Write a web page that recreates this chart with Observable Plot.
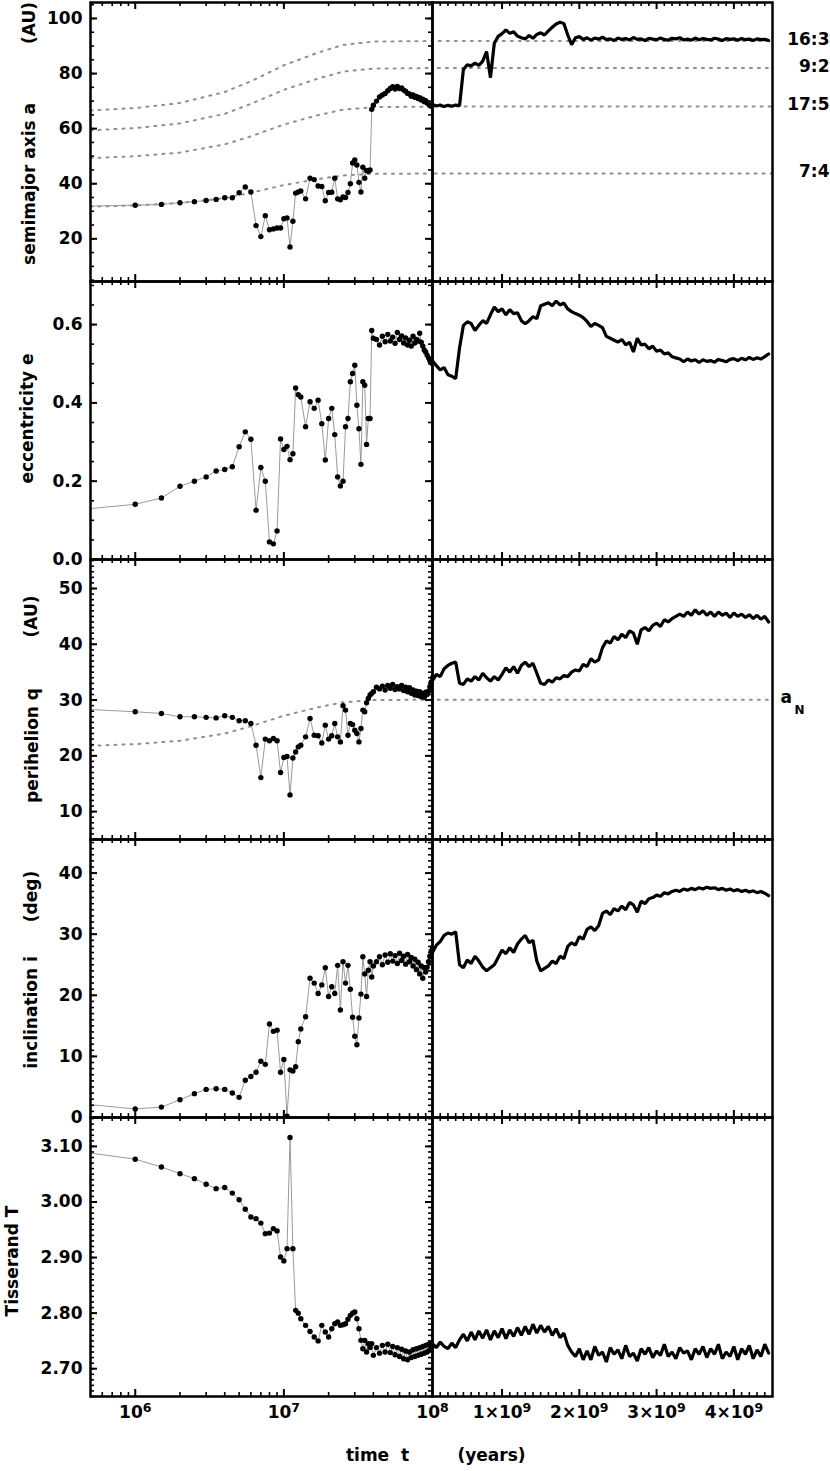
<!DOCTYPE html>
<html><head><meta charset="utf-8">
<script src="https://cdn.jsdelivr.net/npm/d3@7"></script>
<script src="https://cdn.jsdelivr.net/npm/@observablehq/plot@0.6"></script>
<style>
body{margin:0;background:#fff;}
#chart{position:relative;width:830px;height:1471px;overflow:hidden;background:#fff;}
#chart svg{position:absolute;}
</style></head><body><div id="chart"></div>
<script>
// ---------- time grids ----------
const tLeftMyr = [0.5,1,1.5,2,2.5,3,3.5,4,4.5,5,5.5,6,6.5,7,7.5,8,8.5,9,9.5,10,10.5,11,11.5,12,12.5,13,
14,15,16,17,18,19,20,21,22,23,24,25,26,27,28,29,30,31,32,33,34,35,36,37,38,39,40,
42,44,46,48,50,52,54,56,58,60,62,64,66,68,70,72,74,76,78,80,82,84,86,88,90,92,94,96,98,100];
const tRightGyr = [0.10,0.15,0.20,0.25,0.30,0.35,0.40,0.45,0.50,0.55,
0.60,0.65,0.70,0.75,0.80,0.85,0.90,0.95,1.00,1.05,
1.10,1.15,1.20,1.25,1.30,1.35,1.40,1.45,1.50,1.55,
1.60,1.65,1.70,1.75,1.80,1.85,1.90,1.95,2.00,2.05,
2.10,2.15,2.20,2.25,2.30,2.35,2.40,2.45,2.50,2.55,
2.60,2.65,2.70,2.75,2.80,2.85,2.90,2.95,3.00,3.05,
3.10,3.15,3.20,3.25,3.30,3.35,3.40,3.45,3.50,3.55,
3.60,3.65,3.70,3.75,3.80,3.85,3.90,3.95,4.00,4.05,
4.10,4.15,4.20,4.25,4.30,4.35,4.40,4.45];

// ---------- semimajor axis a (AU) ----------
const aLeft = [31.9,32.2,32.5,33.1,33.5,33.9,34.3,34.9,34.9,36.7,38.8,37.0,24.8,20.8,28.4,23.3,23.6,23.9,23.9,27.3,27.6,17.0,26.4,36.6,37.0,37.4,
34.5,42.0,41.5,39.2,39.0,33.8,36.8,36.9,42.0,34.5,34.2,35.2,35.0,36.8,40.0,47.5,48.6,46.8,40.5,37.0,46.0,42.0,44.8,44.5,45.0,67.0,68.5,
70.0,71.5,72.2,72.8,73.8,74.6,75.2,74.4,75.3,74.6,74.8,74.0,73.6,72.8,72.6,71.8,72.2,71.4,71.7,70.9,71.2,70.4,70.7,69.8,70.1,69.3,69.0,68.4,68.1,68.3];
const aRight = [68.8,68.2,68.6,68.0,68.5,68.1,68.6,68.3,81.5,83.2,
82.8,83.8,83.0,84.5,88.0,78.5,91.0,93.5,94.5,95.8,
94.6,95.2,93.6,93.0,92.6,93.8,92.8,94.2,94.8,94.0,
95.5,96.8,98.0,98.6,98.2,94.0,90.5,93.0,93.4,92.4,
93.0,92.1,92.9,92.5,93.2,92.3,92.6,92.0,92.9,92.4,
92.7,92.2,93.1,92.4,92.6,92.0,92.8,92.5,92.3,92.9,
92.4,92.1,92.8,92.6,93.0,92.2,92.5,92.1,92.9,92.3,
92.7,92.4,92.2,92.8,92.5,92.0,92.7,92.4,92.6,92.1,
92.7,92.3,92.5,92.0,92.6,92.3,92.4,92.0];

// ---------- eccentricity e ----------
const eLeft = [0.130,0.141,0.157,0.187,0.200,0.211,0.226,0.230,0.237,0.288,0.326,0.307,0.126,0.235,0.200,0.045,0.040,0.073,0.308,0.281,0.289,0.255,0.270,0.438,0.421,0.415,
0.339,0.403,0.386,0.407,0.347,0.254,0.360,0.386,0.319,0.211,0.188,0.200,0.339,0.360,0.454,0.475,0.496,0.394,0.334,0.243,0.454,0.445,0.294,0.360,0.360,0.585,0.565,
0.562,0.548,0.570,0.556,0.575,0.558,0.568,0.552,0.580,0.562,0.571,0.553,0.566,0.548,0.560,0.545,0.570,0.553,0.562,0.558,0.578,0.555,0.545,0.535,0.530,0.522,0.515,0.508,0.503,0.500];
const eRight = [0.508,0.495,0.484,0.490,0.472,0.468,0.462,0.540,0.598,0.607,
0.603,0.585,0.598,0.610,0.603,0.625,0.645,0.633,0.640,0.625,
0.638,0.628,0.630,0.610,0.602,0.610,0.620,0.615,0.648,0.652,
0.656,0.648,0.660,0.650,0.655,0.640,0.633,0.628,0.624,0.618,
0.608,0.595,0.603,0.598,0.592,0.570,0.565,0.560,0.555,0.562,
0.548,0.555,0.530,0.565,0.548,0.550,0.538,0.545,0.532,0.535,
0.525,0.528,0.518,0.515,0.512,0.505,0.512,0.507,0.510,0.503,
0.510,0.506,0.508,0.504,0.511,0.508,0.505,0.511,0.513,0.508,
0.514,0.510,0.516,0.511,0.515,0.512,0.518,0.525];

// ---------- perihelion q (AU) ----------
const qLeft = [28.3,27.9,27.6,27.0,27.0,26.9,26.8,27.2,26.9,26.3,26.3,25.8,21.9,16.1,23.0,22.7,23.1,22.7,17.0,19.7,19.9,13.0,19.6,20.7,21.6,21.9,
23.4,26.7,23.7,23.6,22.3,25.5,23.0,23.6,25.8,23.4,22.5,29.0,28.2,23.7,25.8,25.6,24.6,24.0,22.5,24.9,28.2,27.9,29.5,30.3,30.9,31.2,31.5,
32.3,32.0,32.5,31.8,32.6,32.1,32.8,31.9,32.4,32.0,32.6,31.7,32.3,31.5,32.2,31.2,31.8,30.9,31.6,30.8,31.5,30.6,31.2,30.5,31.4,31.0,31.6,32.4,33.2,34.0];
const qRight = [33.5,34.6,34.2,35.6,36.2,36.6,36.8,33.0,32.8,33.8,
33.4,34.2,33.6,34.8,34.0,33.4,34.2,33.6,34.6,35.8,
35.0,36.0,34.8,36.2,36.8,36.0,36.6,34.8,33.0,32.8,
33.6,33.2,34.0,33.8,34.4,34.2,35.0,35.4,35.2,36.4,
36.0,37.4,36.8,37.2,39.4,40.6,40.2,41.4,40.8,41.8,
41.2,42.4,42.0,40.0,42.6,43.0,42.4,43.4,43.8,43.2,
44.4,44.0,44.6,45.0,45.4,45.0,45.8,45.2,46.2,45.4,
46.0,45.2,45.8,45.0,45.8,45.2,45.6,44.8,45.6,45.0,
45.4,44.8,45.3,44.6,45.2,44.5,45.0,44.0];

// ---------- inclination i (deg) ----------
const iLeft = [2.1,1.4,1.7,2.9,3.9,4.6,4.7,4.6,4.0,3.3,6.1,6.7,7.4,9.2,8.7,15.3,14.1,14.3,7.4,9.5,0.2,7.8,7.6,8.3,12.4,14.5,
16.5,22.8,22.0,20.3,21.7,24.5,19.8,21.4,20.3,24.9,17.6,25.5,22.0,24.9,21.0,16.4,13.3,11.9,16.3,20.2,26.3,23.5,19.8,24.1,25.5,23.0,24.8,
25.5,26.3,25.0,26.6,25.4,26.8,25.6,26.5,25.2,26.9,25.7,26.4,25.1,26.7,25.5,26.2,24.8,25.9,24.2,25.4,23.5,24.8,22.8,24.5,23.8,24.6,25.5,26.4,27.2,27.8];
const iRight = [27.0,28.2,28.8,29.8,30.2,30.0,30.4,25.0,24.5,25.8,
25.2,26.4,25.6,24.6,24.0,24.5,25.0,26.2,27.4,26.8,
27.8,27.0,28.4,29.2,29.8,28.6,29.0,25.6,24.0,24.4,
24.8,25.6,25.2,26.4,26.0,28.0,28.6,28.2,29.6,29.2,
30.8,31.2,30.6,31.4,33.4,33.8,33.2,34.2,33.8,34.6,
34.0,35.2,34.8,33.6,35.4,35.0,35.8,36.0,36.4,36.2,
36.8,36.6,37.0,37.2,37.0,37.4,37.2,37.5,37.3,37.6,
37.4,37.7,37.5,37.6,37.3,37.5,37.2,37.4,37.1,37.3,
37.0,37.2,36.9,37.1,36.8,37.0,36.7,36.3];

// ---------- Tisserand T ----------
const TLeft = [3.088,3.077,3.063,3.051,3.042,3.032,3.024,3.026,3.016,3.004,2.987,2.973,2.970,2.962,2.943,2.944,2.952,2.948,2.901,2.894,2.916,3.116,2.916,2.805,2.800,2.790,
2.778,2.767,2.757,2.750,2.778,2.766,2.757,2.772,2.781,2.784,2.778,2.779,2.781,2.789,2.796,2.800,2.802,2.790,2.772,2.751,2.736,2.751,2.730,2.745,2.738,2.745,2.724,
2.738,2.728,2.742,2.730,2.744,2.729,2.740,2.725,2.738,2.722,2.735,2.718,2.732,2.716,2.730,2.720,2.734,2.722,2.736,2.724,2.738,2.726,2.740,2.728,2.742,2.730,2.744,2.734,2.746,2.742];
const TRight = [2.745,2.738,2.748,2.740,2.736,2.746,2.738,2.752,2.762,2.750,
2.766,2.752,2.768,2.755,2.770,2.752,2.768,2.756,2.772,2.754,
2.770,2.758,2.774,2.760,2.776,2.762,2.780,2.764,2.778,2.766,
2.776,2.760,2.772,2.756,2.764,2.742,2.730,2.722,2.736,2.716,
2.732,2.716,2.740,2.724,2.730,2.712,2.738,2.726,2.734,2.718,
2.742,2.722,2.728,2.714,2.736,2.726,2.738,2.720,2.732,2.724,
2.744,2.722,2.730,2.718,2.738,2.728,2.732,2.716,2.736,2.726,
2.740,2.720,2.736,2.726,2.744,2.718,2.730,2.722,2.740,2.716,
2.736,2.726,2.742,2.718,2.734,2.722,2.744,2.728];

// ---------- Neptune and resonance locations (AU) ----------
const resTimes = [5e5,1e6,2e6,4e6,6e6,1e7,1.7e7,2.5e7,4e7,1e8,4.5e9];
const aNeptune = [21.8,22.1,22.7,24.0,25.3,27.2,28.7,29.6,30.0,30.07,30.07];
const res7to4  = [31.7,32.1,33.0,34.8,36.7,39.5,41.7,43.0,43.6,43.7,43.7];
const res17to5 = [49.3,50.0,51.3,54.3,57.2,61.5,64.9,66.9,67.8,68.0,68.0];
const res9to2  = [59.4,60.2,61.9,65.4,69.0,74.1,78.2,80.7,81.8,82.0,82.0];
const res16to3 = [66.6,67.5,69.3,73.3,77.2,83.0,87.6,90.4,91.6,91.8,91.8];
const resNames = ["16:3","9:2","17:5","7:4"];

// ---------- ticks ----------
const aMajor = [20,40,60,80,100];
const eMajor = [0,0.2,0.4,0.6];
const qMajor = [10,20,30,40,50];
const iMajor = [0,10,20,30,40];
const TMajor = [2.70,2.80,2.90,3.00,3.10];
const xMajorLeft = [1e6,1e7];
const xLabelLeft = [1e6,1e7,1e8];
const xMajorRight = [1e9,2e9,3e9,4e9];

const xMinorLeft = [6e5,7e5,8e5,9e5].concat(d3.range(2,10).map(k=>k*1e6), d3.range(2,10).map(k=>k*1e7));
const xMinorRight = d3.range(2,45).map(k=>k*1e8).filter(v => v % 1e9 !== 0);

// ---------- build ----------
const chart = document.getElementById("chart");
const ns = "http://www.w3.org/2000/svg";
const FONT = {fontFamily: "'DejaVu Sans', sans-serif", fontSize: "17px", fontWeight: "bold", overflow: "visible", background: "transparent"};
const LEFT_X0 = 90, DIV_X = 432, RIGHT_X1 = 772;
const BOTTOM_M = 75;

function toRows(ts, vs, mult) { return ts.map((t,i) => ({t: t*mult, v: vs[i]})); }
function resRows(vs) { return resTimes.map((t,i) => ({t, v: vs[i]})); }

function supify(svg) {
  svg.querySelectorAll("text").forEach(t => {
    const s = t.textContent;
    if (s.includes("^")) {
      const [base, exp] = s.split("^");
      while (t.firstChild) t.removeChild(t.firstChild);
      const a = document.createElementNS(ns, "tspan"); a.textContent = base;
      const b = document.createElementNS(ns, "tspan"); b.textContent = exp;
      b.setAttribute("dy", "-0.42em"); b.setAttribute("font-size", "12.5");
      t.appendChild(a); t.appendChild(b);
    }
  });
}

function tickMarksY(majors, minors, W, side) {
  const key = side === "left" ? "insetRight" : "insetLeft";
  return [
    Plot.tickY(minors, {y: d=>d, [key]: W-4, stroke: "black", strokeWidth: 1.6}),
    Plot.tickY(majors, {y: d=>d, [key]: W-7, stroke: "black", strokeWidth: 2})
  ];
}
function tickMarksX(majors, minors, H) {
  return [
    Plot.tickX(minors, {x: d=>d, insetBottom: H-4, stroke: "black", strokeWidth: 1.6}),
    Plot.tickX(majors, {x: d=>d, insetBottom: H-7, stroke: "black", strokeWidth: 2}),
    Plot.tickX(minors, {x: d=>d, insetTop: H-4, stroke: "black", strokeWidth: 1.6}),
    Plot.tickX(majors, {x: d=>d, insetTop: H-7, stroke: "black", strokeWidth: 2})
  ];
}

function dotted(rows) {
  return Plot.line(rows, {x: "t", y: "v", stroke: "#8f8f8f", strokeWidth: 2, strokeDasharray: "2,6", clip: true});
}

const resSets = [res16to3, res9to2, res17to5, res7to4];
const resLabelRows = resNames.map((s,i) => ({s, v: resSets[i][resSets[i].length-1]}));
const aNfinal = aNeptune[aNeptune.length-1];

const panels = [
  {y0: 2, y1: 281, domain: [4.5, 105.8], majors: aMajor, step: 5, fmt: d => String(d),
   left: aLeft, right: aRight,
   ylabels: [{s: "semimajor axis a", dx: -61, dy: 42}, {s: "(AU)", dx: -61, dy: -119}],
   extraL: resSets.map(r => dotted(resRows(r))),
   extraR: resSets.map(r => dotted(resRows(r))),
   textR: [Plot.text(resLabelRows, {y: "v", text: "s", frameAnchor: "right", textAnchor: "end", dx: 57, dy: -2})]},
  {y0: 281, y1: 559, domain: [0, 0.71], majors: eMajor, step: 0.05, fmt: d3.format(".1f"),
   left: eLeft, right: eRight,
   ylabels: [{s: "eccentricity e", dx: -63, dy: -2}], extraL: [], extraR: [], textR: []},
  {y0: 559, y1: 839, domain: [5, 55.2], majors: qMajor, step: 1, fmt: d => String(d),
   left: qLeft, right: qRight,
   ylabels: [{s: "perihelion q", dx: -58, dy: 46}, {s: "(AU)", dx: -59, dy: -83}],
   extraL: [dotted(resRows(aNeptune))],
   extraR: [dotted(resRows(aNeptune))],
   textR: [
     Plot.text([aNfinal], {y: d=>d, text: () => "a", frameAnchor: "right", textAnchor: "start", dx: 8, dy: -2}),
     Plot.text([aNfinal], {y: d=>d, text: () => "N", frameAnchor: "right", textAnchor: "start", dx: 22, dy: 10, fontSize: 12})
   ]},
  {y0: 839, y1: 1117, domain: [0, 45.5], majors: iMajor, step: 1, fmt: d => String(d),
   left: iLeft, right: iRight,
   ylabels: [{s: "inclination i", dx: -59, dy: 34}, {s: "(deg)", dx: -59, dy: -82}], extraL: [], extraR: [], textR: []},
  {y0: 1117, y1: 1396, domain: [2.65, 3.152], majors: TMajor, step: 0.01, fmt: d3.format(".2f"),
   left: TLeft, right: TRight, bottom: true,
   ylabels: [{s: "Tisserand T", dx: -78, dy: 4}], extraL: [], extraR: [], textR: []}
];

panels.forEach(p => {
  const H = p.y1 - p.y0;
  const mb = p.bottom ? BOTTOM_M : 0;
  const [lo, hi] = p.domain;
  const minors = [];
  for (let k = Math.ceil(lo / p.step - 1e-6); k * p.step <= hi + 1e-9; k++) minors.push(+(k * p.step).toFixed(4));
  const leftRows = toRows(tLeftMyr, p.left, 1e6);
  const rightRows = toRows(tRightGyr, p.right, 1e9);
  const WL = DIV_X - LEFT_X0;
  const WR = RIGHT_X1 - DIV_X;

  const leftMarks = [
    ...p.extraL,
    Plot.line(leftRows, {x: "t", y: "v", stroke: "#9a9a9a", strokeWidth: 1, clip: true}),
    Plot.dot(leftRows.filter(d => d.t >= 1e6), {x: "t", y: "v", r: 2.7, fill: "black", stroke: "none", clip: true}),
    ...tickMarksY(p.majors, minors, WL, "left"),
    ...tickMarksY(p.majors, minors, WL, "right"),
    ...tickMarksX(xMajorLeft, xMinorLeft, H),
    Plot.axisY({ticks: p.majors, tickFormat: p.fmt, tickSize: 0, tickPadding: 8, label: null}),
    ...p.ylabels.map(l => Plot.text([l.s], {text: d => d, frameAnchor: "left", textAnchor: "middle", lineAnchor: "middle", rotate: -90, dx: l.dx, dy: l.dy})),
    Plot.frame({stroke: "black", strokeWidth: 2.5})
  ];
  if (p.bottom) {
    leftMarks.push(Plot.axisX({ticks: xLabelLeft, tickFormat: d => "10^" + Math.round(Math.log10(d)), tickSize: 0, tickPadding: 9, label: null}));
    leftMarks.push(Plot.text(["time  t"], {text: d => d, frameAnchor: "bottom", textAnchor: "middle", dx: 116, dy: 64}));
  }
  const svgL = Plot.plot({
    width: DIV_X, height: H + mb,
    marginLeft: LEFT_X0, marginRight: 0, marginTop: 0, marginBottom: mb,
    x: {type: "log", domain: [5e5, 1e8], axis: null},
    y: {domain: p.domain, axis: null},
    style: FONT,
    marks: leftMarks
  });

  const rightMarks = [
    ...p.extraR,
    Plot.line(rightRows, {x: "t", y: "v", stroke: "black", strokeWidth: 3.2, strokeLinejoin: "miter", clip: true}),
    ...tickMarksX(xMajorRight, xMinorRight, H),
    Plot.frame({stroke: "black", strokeWidth: 2.5}),
    ...p.textR
  ];
  if (p.bottom) {
    rightMarks.push(Plot.axisX({ticks: xMajorRight, tickFormat: d => (d/1e9) + "\u00d710^9", tickSize: 0, tickPadding: 9, label: null}));
    rightMarks.push(Plot.text(["(years)"], {text: d => d, frameAnchor: "bottom", textAnchor: "middle", dx: -111, dy: 64}));
  }
  const svgR = Plot.plot({
    width: WR + 58, height: H + mb,
    marginLeft: 0, marginRight: 58, marginTop: 0, marginBottom: mb,
    x: {type: "linear", domain: [1e8, 4.5e9], axis: null},
    y: {domain: p.domain, axis: null},
    style: FONT,
    marks: rightMarks
  });

  [svgL, svgR].forEach(s => supify(s));
  svgL.style.left = "0px"; svgL.style.top = p.y0 + "px";
  svgR.style.left = DIV_X + "px"; svgR.style.top = p.y0 + "px";
  chart.appendChild(svgL);
  chart.appendChild(svgR);
});
</script></body></html>
